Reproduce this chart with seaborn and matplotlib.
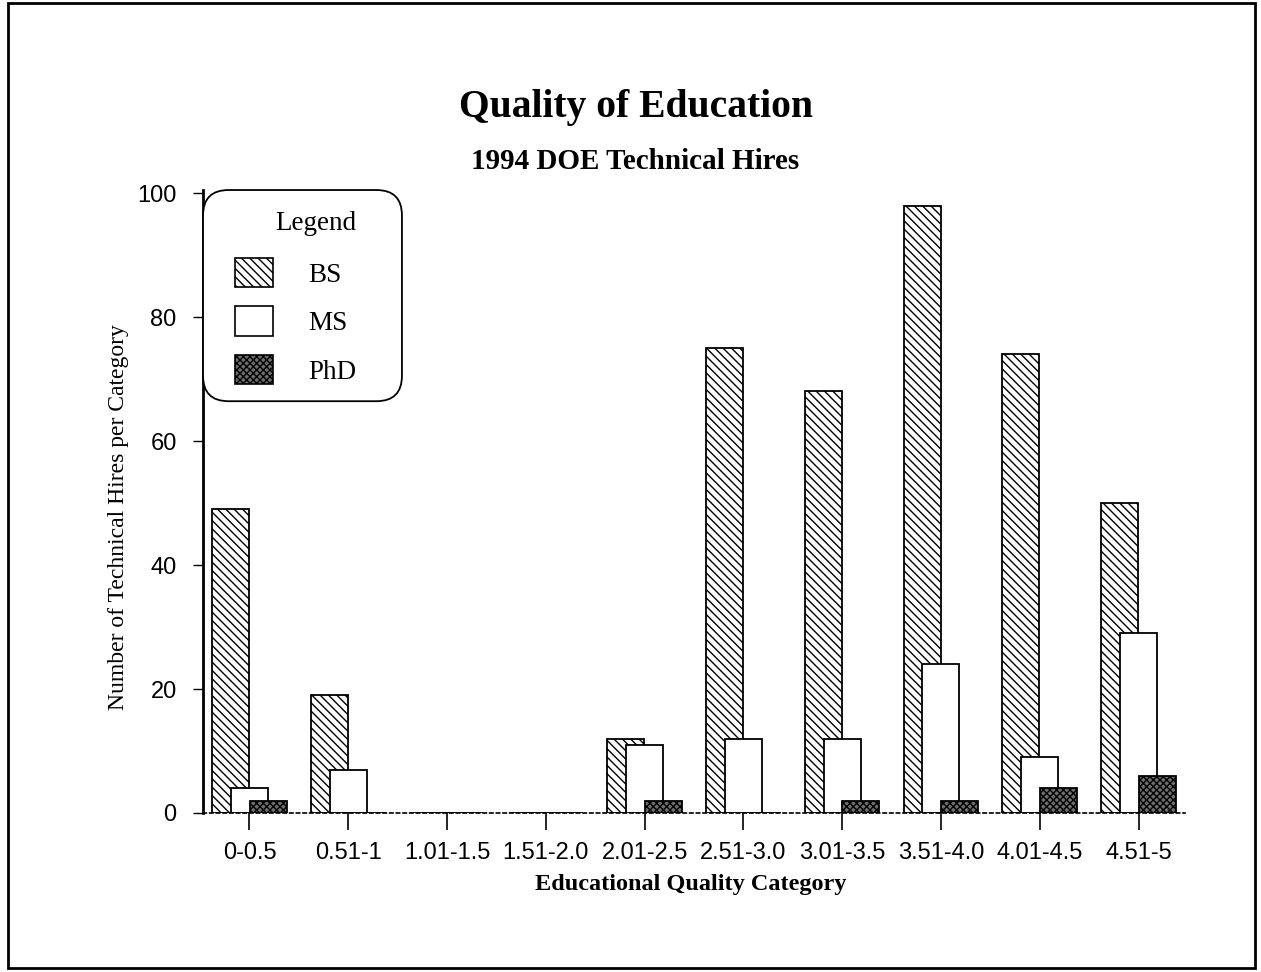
import numpy as np
import pandas as pd
import matplotlib
matplotlib.use("Agg")
import matplotlib.pyplot as plt
from matplotlib.patches import Patch, Rectangle, FancyBboxPatch
import seaborn as sns

categories = ["0-0.5", "0.51-1", "1.01-1.5", "1.51-2.0", "2.01-2.5",
              "2.51-3.0", "3.01-3.5", "3.51-4.0", "4.01-4.5", "4.51-5"]
bs_values = [49, 19, 0, 0, 12, 75, 68, 98, 74, 50]
ms_values = [4, 7, 0, 0, 11, 12, 12, 24, 9, 29]
phd_values = [2, 0, 0, 0, 2, 0, 2, 2, 4, 6]
series_names = ["BS", "MS", "PhD"]
y_ticks = [0, 20, 40, 60, 80, 100]

sns.set_theme(style="white")
plt.rcParams['font.family'] = ['Liberation Sans', 'DejaVu Sans']
plt.rcParams['hatch.linewidth'] = 1.0
plt.rcParams['text.color'] = 'black'

styles = {
    "BS": dict(color="white", hatch="\\\\\\\\"),
    "MS": dict(color="white", hatch=None),
    "PhD": dict(color="#6e6e6e", hatch="xxxxx"),
}

fig = plt.figure(figsize=(12.61, 9.72), dpi=100)
ax = fig.add_axes([0.161, 0.1636, 0.9397 - 0.161, 0.8045 - 0.1636])

pos = np.arange(len(categories))
offsets = [-0.19, 0.0, 0.19]
bar_w = 0.375
all_vals = [bs_values, ms_values, phd_values]
for name, off, vals in zip(series_names, offsets, all_vals):
    df = pd.DataFrame({"x": pos + off, "y": vals})
    st = styles[name]
    kw = {}
    if st["hatch"]:
        kw["hatch"] = st["hatch"]
    sns.barplot(data=df, x="x", y="y", native_scale=True, width=bar_w,
                color=st["color"], saturation=1, edgecolor="black",
                linewidth=1.3, errorbar=None, ax=ax, **kw)

ax.set_xlim(-0.47, len(categories) - 1 + 0.47)
ax.set_ylim(0, 100.5)
ax.set_xticks(pos)
ax.set_xticklabels(categories, fontsize=17)
ax.set_yticks(y_ticks)
ax.set_yticklabels([str(v) for v in y_ticks], fontsize=17)
ax.set_xlabel("")
ax.set_ylabel("")
ax.tick_params(axis="x", direction="out", length=12, width=1.2, pad=9,
               bottom=True, colors="black")
ax.tick_params(axis="y", direction="out", length=7, width=1.0, pad=12,
               left=True, colors="black")
for t in ax.yaxis.get_ticklines():
    t.set_linestyle(":")

for s in ["top", "right"]:
    ax.spines[s].set_visible(False)
ax.spines["left"].set_linewidth(2)
ax.spines["left"].set_color("black")
ax.spines["bottom"].set_linewidth(1.2)
ax.spines["bottom"].set_color("black")
ax.spines["bottom"].set_linestyle((0, (2, 2)))
ax.set_facecolor("white")

# legend frame (rounded box in the upper-left corner of the axes)
ax_w_px, ax_h_px = 982.0, 623.0
box = FancyBboxPatch((0.0, 0.661), 0.2026, 0.339, transform=ax.transAxes,
                     boxstyle="round,pad=0,rounding_size=0.026",
                     mutation_aspect=ax_w_px / ax_h_px,
                     facecolor="white", edgecolor="black", linewidth=1.3,
                     zorder=5, clip_on=False)
ax.add_patch(box)

handles = []
for name in series_names:
    st = styles[name]
    handles.append(Patch(facecolor=st["color"], edgecolor="black",
                         hatch=st["hatch"], linewidth=1.2, label=name))
serif = ['Liberation Serif', 'DejaVu Serif']
leg = ax.legend(handles=handles, title="Legend", loc="upper left",
                bbox_to_anchor=(0.0326, 0.966), borderaxespad=0.0,
                prop={"family": serif, "size": 19.5},
                title_fontproperties={"family": serif, "size": 19.5},
                handlelength=1.4, handleheight=1.3, handletextpad=1.3,
                labelspacing=0.69, borderpad=0.0, frameon=False,
                alignment="right")
leg.set_zorder(6)
leg._legend_box.sep = 15.5
leg.get_title().set_color("black")
for t in leg.get_texts():
    t.set_color("black")

fig.text(0.504, 0.889, "Quality of Education", ha="center", va="center",
         family=serif, fontsize=28.5, fontweight="bold", color="black")
fig.text(0.504, 0.834, "1994 DOE Technical Hires", ha="center", va="center",
         family=serif, fontsize=21, fontweight="bold", color="black")
fig.text(0.548, 0.0905, "Educational Quality Category", ha="center",
         va="center", family=serif, fontsize=17.5, fontweight="bold",
         color="black")
fig.text(0.0936, 0.468, "Number of Technical Hires per Category",
         ha="center", va="center", rotation=90, family=serif, fontsize=17,
         color="black")

fig.patches.append(Rectangle((0.006, 0.004), 0.989, 0.993,
                             transform=fig.transFigure, fill=False,
                             edgecolor="black", linewidth=2))

fig.savefig("out.png", dpi=100, facecolor="white")
